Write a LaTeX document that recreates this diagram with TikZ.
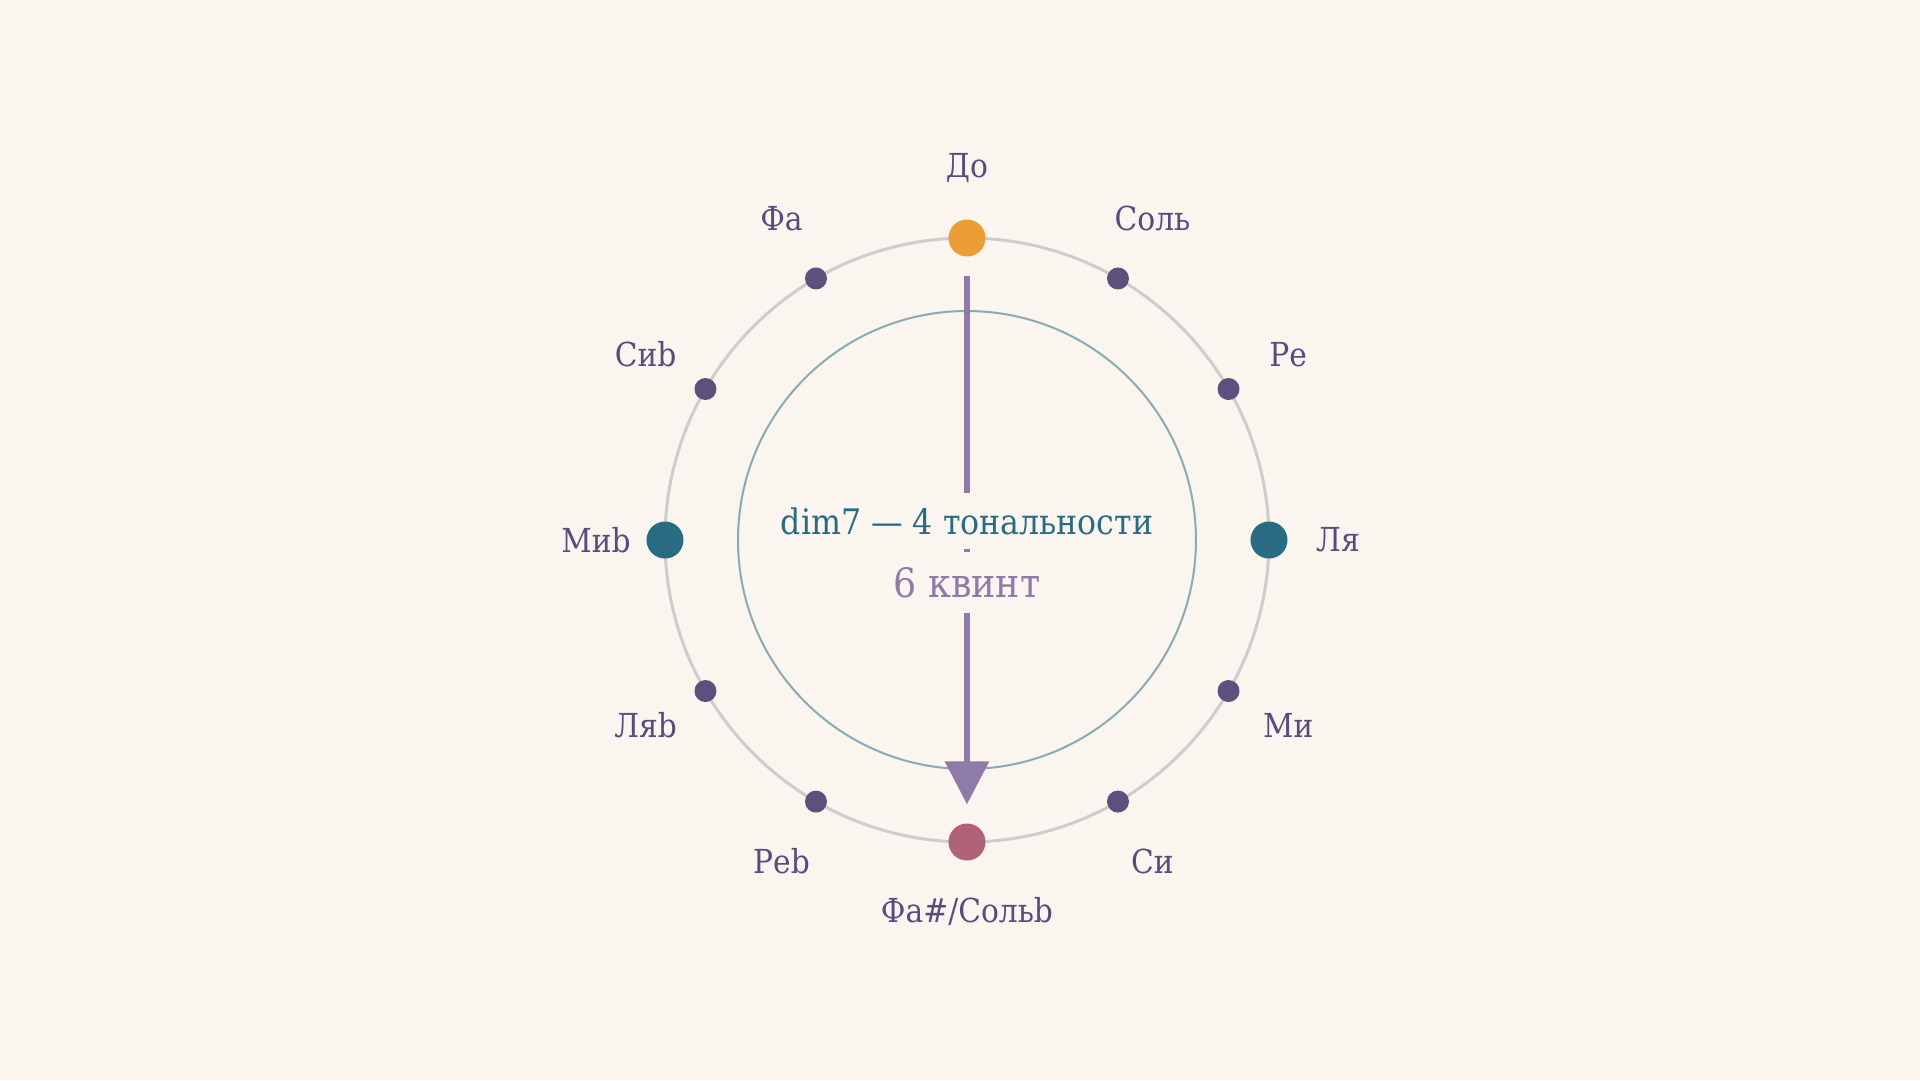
\documentclass[tikz,border=0pt]{standalone}
\usepackage{fontspec}
\setmainfont{DejaVu Serif Condensed}
\usetikzlibrary{arrows.meta}
\definecolor{bg}{HTML}{FAF5EE}
\definecolor{outerc}{HTML}{CFCCCC}
\definecolor{innerc}{HTML}{8BAAB5}
\definecolor{dotc}{HTML}{5A527C}
\definecolor{labc}{HTML}{574D7D}
\definecolor{orangec}{HTML}{EA9E35}
\definecolor{pinkc}{HTML}{B06276}
\definecolor{tealc}{HTML}{2A6B84}
\definecolor{arrc}{HTML}{8E7BAA}
\tikzset{
  smalldot/.style={circle,fill=dotc,inner sep=0pt,minimum size=2.2mm},
  bigdot/.style={circle,inner sep=0pt,minimum size=3.7mm},
  notelabel/.style={text=labc,inner sep=0pt,font=\fontsize{9.4}{11}\selectfont},
  centertext/.style={fill=bg,inner xsep=0pt,anchor=base},
  fifths/.style={draw=arrc,line width=0.63mm,-{Triangle[length=4.3mm,width=4.3mm]}},
}
\begin{document}
\begin{tikzpicture}[x=0.1mm,y=0.1mm]
\fill[bg] (-967,-540) rectangle (953,540);
\useasboundingbox (-967,-540) rectangle (953,540);
\draw[outerc,line width=0.3mm] (0,0) circle (30.2mm);
\draw[innerc,line width=0.2mm] (0,0) circle (22.9mm);
% dots
\node[bigdot,fill=orangec] (do) at (90:30.2mm) {};
\node[smalldot] (sol) at (60:30.2mm) {};
\node[smalldot] (re) at (30:30.2mm) {};
\node[bigdot,fill=tealc] (la) at (0:30.2mm) {};
\node[smalldot] (mi) at (-30:30.2mm) {};
\node[smalldot] (si) at (-60:30.2mm) {};
\node[bigdot,fill=pinkc] (fis) at (-90:30.2mm) {};
\node[smalldot] (des) at (-120:30.2mm) {};
\node[smalldot] (as) at (-150:30.2mm) {};
\node[bigdot,fill=tealc] (es) at (180:30.2mm) {};
\node[smalldot] (b) at (150:30.2mm) {};
\node[smalldot] (f) at (120:30.2mm) {};
% labels
\node[notelabel] (ldo) at (90:37.2mm) {До};
\node[notelabel] (lsol) at (60:37.1mm) {Соль};
\node[notelabel] (lre) at (30:37.1mm) {Ре};
\node[notelabel] (lla) at (0:37.1mm) {Ля};
\node[notelabel] (lmi) at (-30:37.1mm) {Ми};
\node[notelabel] (lsi) at (-60:37.1mm) {Си};
\node[notelabel] (lfis) at (-90:37.1mm) {Фа\#/Сольb};
\node[notelabel] (ldes) at (-120:37.1mm) {Реb};
\node[notelabel] (las) at (-150:37.1mm) {Ляb};
\node[notelabel] (les) at (180:37.1mm) {Миb};
\node[notelabel] (lb) at (150:37.1mm) {Сиb};
\node[notelabel] (lf) at (120:37.1mm) {Фа};
% arrow
\draw[fifths,shorten <=1.9mm,shorten >=1.85mm] (do) -- (fis);
% center texts
\node[centertext,text=tealc,inner ysep=1.4mm,font=\fontsize{10}{12}\selectfont] (t1) at (0,6) {dim7 — 4 тональности};
\node[centertext,text=arrc,inner ysep=1.5mm,font=\fontsize{11.5}{13}\selectfont] (t2) at (0,-57) {6 квинт};
\end{tikzpicture}
\end{document}
